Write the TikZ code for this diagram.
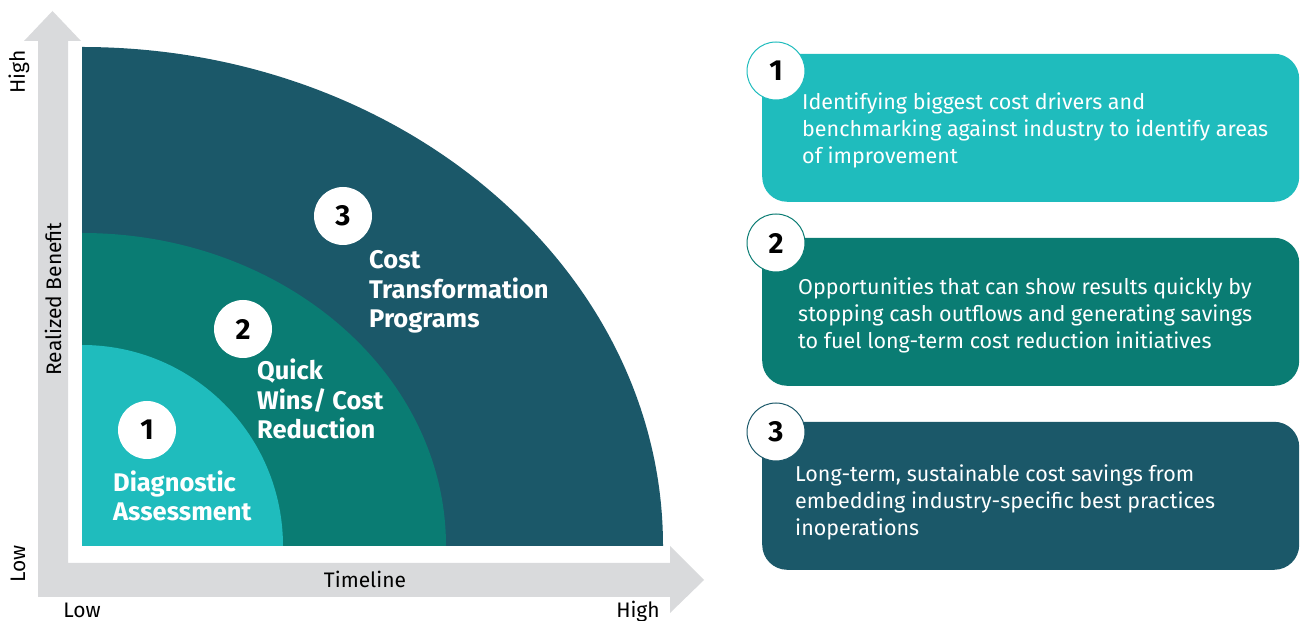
\documentclass[tikz,border=0pt]{standalone}
\usepackage{fontspec}
\setmainfont{Fira Sans}
\usetikzlibrary{shapes}
\definecolor{tealA}{RGB}{31,188,189}
\definecolor{tealB}{RGB}{10,124,115}
\definecolor{tealC}{RGB}{27,88,105}
\definecolor{axisgrey}{RGB}{217,218,220}
\tikzstyle{badge}=[circle,fill=white,minimum size=58pt,inner sep=0pt,font=\fontsize{29}{29}\selectfont\bfseries]
\tikzstyle{stage}=[anchor=base west,align=left,inner sep=0pt,text=white,font=\fontsize{25.5}{29.5}\selectfont\bfseries]
\tikzstyle{card}=[rounded corners=25pt,minimum width=537pt,minimum height=148pt,anchor=south west,inner sep=0pt]
\tikzstyle{cardtext}=[anchor=base west,align=left,inner sep=0pt,text=white,font=\fontsize{21.5}{27}\selectfont]
\tikzstyle{axislabel}=[inner sep=0pt,font=\fontsize{21}{21}\selectfont]

\begin{document}
\begin{tikzpicture}[x=1pt,y=1pt]
    \useasboundingbox (0,0) rectangle (1301,621);

    % axes
    \fill[axisgrey] (38,24) -- (670,24) -- (670,8) -- (704,41) -- (670,75) -- (670,58)
        -- (68,58) -- (68,580) -- (81,580) -- (52.5,610) -- (24,580) -- (38,580) -- cycle;

    \node[axislabel] (tl) at (365,42) {Timeline};
    \node[axislabel, anchor=base] (xlo) at (82,3) {Low};
    \node[axislabel, anchor=base] (xhi) at (638,3) {High};
    \node[axislabel, rotate=90] (ylo) at (18,57) {Low};
    \node[axislabel, rotate=90] (yhi) at (19,549) {High};
    \node[axislabel, rotate=90] (yname) at (53,322) {Realized Benefit};

    % quarter bands
    \foreach \rx/\ry/\col in {581/499/tealC, 364/313/tealB, 201/201/tealA}
        \fill[\col] (82,75) -- ++(\rx,0) arc[start angle=0, end angle=90, x radius=\rx pt, y radius=\ry pt] -- cycle;

    \foreach \x/\y/\name/\num in {147/191/sA/1, 243/292/sB/2, 343/405/sC/3}
        \node[badge] (\name) at (\x,\y) {\num};

    % base = last line
    \node[stage] (lA) at (113,100) {Diagnostic\\Assessment};
    \node[stage] (lB) at (257,182) {Quick\\Wins/ Cost\\Reduction};
    \node[stage] (lC) at (369,293) {Cost\\Transformation\\Programs};

    % cards
    \foreach \y/\col/\name in {419/tealA/cA, 235/tealB/cB, 51/tealC/cC}
        \node[card, fill=\col] (\name) at (762,\y) {};

    \foreach \x/\y/\col/\name/\num in {776/550/tealA/nA/1, 776/378/tealB/nB/2, 776/189/tealC/nC/3}
        \node[badge, draw=\col, line width=1pt] (\name) at (\x,\y) {\num};

    \node[cardtext] (tA) at (802,457) {Identifying biggest cost drivers and\\benchmarking against industry to identify areas\\of improvement};
    \node[cardtext] (tB) at (798,272) {Opportunities that can show results quickly by\\stopping cash outflows and generating savings\\to fuel long-term cost reduction initiatives};
    \node[cardtext] (tC) at (795,85) {Long-term, sustainable cost savings from\\embedding industry-specific best practices\\inoperations};

\end{tikzpicture}
\end{document}
